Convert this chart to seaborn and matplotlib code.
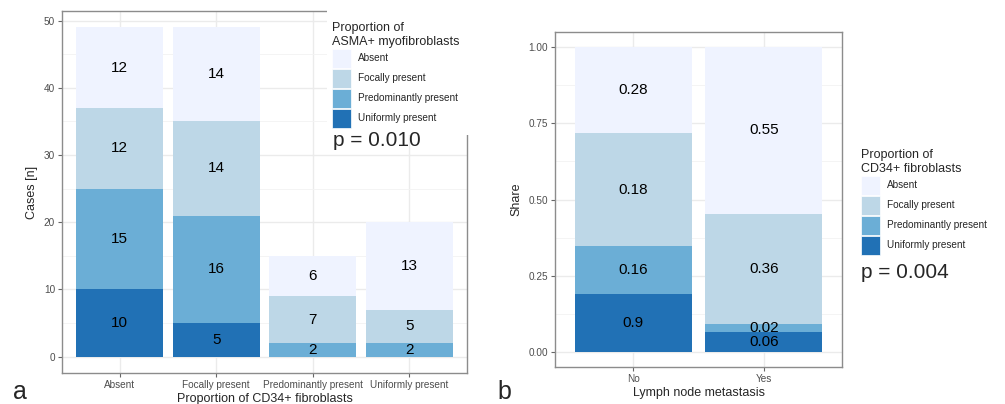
import numpy as np
import matplotlib
matplotlib.use("Agg")
import matplotlib.pyplot as plt
from matplotlib.patches import Patch, Rectangle
from matplotlib.ticker import MultipleLocator
import seaborn as sns

# panel a: counts by CD34+ category, stacked by ASMA+ category
cd34_cats = ["Absent", "Focally present", "Predominantly present", "Uniformly present"]
a_uniform = [10, 5, 0, 0]
a_predominant = [15, 16, 2, 2]
a_focal = [12, 14, 7, 5]
a_absent = [12, 14, 6, 13]

# panel b: share by lymph node metastasis, stacked by CD34+ category
lymph_cats = ["No", "Yes"]
b_uniform = [0.19, 0.066]
b_predominant = [0.156, 0.026]
b_focal = [0.372, 0.362]
b_absent = [0.282, 0.546]
# printed labels as they appear on the chart
b_uniform_lab = ["0.9", "0.06"]
b_predominant_lab = ["0.16", "0.02"]
b_focal_lab = ["0.18", "0.36"]
b_absent_lab = ["0.28", "0.55"]

levels = ["Absent", "Focally present", "Predominantly present", "Uniformly present"]
colors = {"Absent": "#EFF3FF", "Focally present": "#BDD7E7",
          "Predominantly present": "#6BAED6", "Uniformly present": "#2171B5"}

sns.set_style("white")
plt.rcParams["font.family"] = ["Liberation Sans", "DejaVu Sans"]

W, H = 1005, 404
fig = plt.figure(figsize=(W / 100, H / 100), dpi=100)
ax_a = fig.add_axes([62 / W, 1 - 373 / H, (467 - 62) / W, (373 - 11) / H])
ax_b = fig.add_axes([555 / W, 1 - 367 / H, (842 - 555) / W, (367 - 32) / H])


def stacked(ax, cats, layers):
    bottom = np.zeros(len(cats))
    for name, vals, labs in layers:
        vals = np.asarray(vals, dtype=float)
        sns.barplot(x=cats, y=vals, bottom=bottom, color=colors[name], saturation=1,
                    width=0.9, linewidth=0, ax=ax)
        ax.bar_label(ax.containers[-1], labels=labs, label_type="center",
                     fontsize=11, color="black")
        bottom = bottom + vals
    return bottom


def style_axes(ax, ymax, major, minor):
    n = len(ax.get_xticks())
    ax.set_xlim(-0.6, n - 1 + 0.6)
    ax.set_ylim(-0.05 * ymax, 1.05 * ymax)
    ax.yaxis.set_major_locator(MultipleLocator(major))
    ax.yaxis.set_minor_locator(MultipleLocator(minor))
    ax.set_axisbelow(True)
    ax.grid(which="major", color="#EBEBEB", lw=1.0)
    ax.grid(which="minor", axis="y", color="#F3F3F3", lw=0.6)
    ax.tick_params(which="major", length=3, color="#666666", labelsize=7.2,
                   labelcolor="#4D4D4D", pad=2, bottom=True, left=True)
    ax.tick_params(which="minor", length=0)
    for s in ax.spines.values():
        s.set_color("#8C8C8C")
        s.set_linewidth(1.0)


def n_lab(v):
    return [str(x) if x > 0 else "" for x in v]


stacked(ax_a, cd34_cats, [
    ("Uniformly present", a_uniform, n_lab(a_uniform)),
    ("Predominantly present", a_predominant, n_lab(a_predominant)),
    ("Focally present", a_focal, n_lab(a_focal)),
    ("Absent", a_absent, n_lab(a_absent)),
])
style_axes(ax_a, 49, 10, 5)
ax_a.yaxis.set_major_formatter(lambda v, p: f"{v:.0f}")
ax_a.set_xlabel("Proportion of CD34+ fibroblasts", fontsize=9, labelpad=2)
ax_a.set_ylabel("Cases [n]", fontsize=9, labelpad=4)

stacked(ax_b, lymph_cats, [
    ("Uniformly present", b_uniform, b_uniform_lab),
    ("Predominantly present", b_predominant, b_predominant_lab),
    ("Focally present", b_focal, b_focal_lab),
    ("Absent", b_absent, b_absent_lab),
])
style_axes(ax_b, 1.0, 0.25, 0.125)
ax_b.yaxis.set_major_formatter(lambda v, p: f"{v:.2f}")
ax_b.set_xlabel("Lymph node metastasis", fontsize=9, labelpad=2)
ax_b.set_ylabel("Share", fontsize=9, labelpad=4)

# white box behind the legend in panel a
fig.add_artist(Rectangle((327 / W, 1 - 135 / H), (472 - 327) / W, 135 / H,
                         transform=fig.transFigure, facecolor="white",
                         edgecolor="none", zorder=1))

handles = [Patch(facecolor=colors[l], edgecolor="white", lw=0.5) for l in levels]
leg_kw = dict(loc="upper left", frameon=False, fontsize=7.2, title_fontsize=9,
              handlelength=1.9, handleheight=2.55, labelspacing=0.1,
              handletextpad=0.7, borderpad=0, borderaxespad=0, alignment="left")
fig.legend(handles, levels, title="Proportion of\nASMA+ myofibroblasts",
           bbox_to_anchor=(332 / W, 1 - 22 / H), **leg_kw)
fig.legend(handles, levels, title="Proportion of\nCD34+ fibroblasts",
           bbox_to_anchor=(861 / W, 1 - 149 / H), **leg_kw)

fig.text(333 / W, 1 - 141 / H, "p = 0.010", fontsize=15, va="center", zorder=6)
fig.text(861 / W, 1 - 272 / H, "p = 0.004", fontsize=15, va="center", zorder=6)

fig.text(13 / W, 5 / H, "a", fontsize=18, va="baseline")
fig.text(497 / W, 5 / H, "b", fontsize=18, va="baseline")

fig.savefig("out.png", dpi=100)
